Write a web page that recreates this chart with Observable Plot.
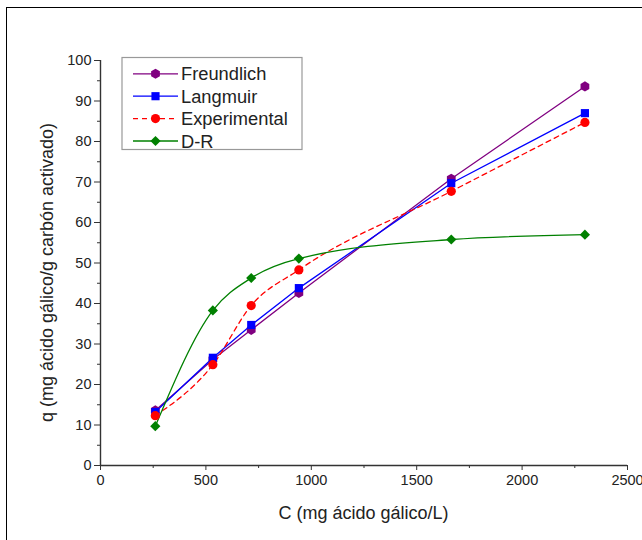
<!DOCTYPE html>
<html><head><meta charset="utf-8">
<script src="https://cdn.jsdelivr.net/npm/d3@7"></script>
<script src="https://cdn.jsdelivr.net/npm/@observablehq/plot@0.6"></script>
<style>
html,body{margin:0;padding:0;background:#fff;overflow:hidden;width:642px;height:540px;}
#chart{position:absolute;left:0;top:0;}
#frame{position:absolute;left:6px;top:7px;width:800px;height:800px;border:1.5px solid #000;pointer-events:none;}
</style></head><body>
<div id="chart"></div><div id="frame"></div>
<script>
// Data
const concentration = [260, 533, 715, 941, 1664, 2298];
const freundlich   = [13.6, 26.2, 33.5, 42.6, 70.8, 93.6];
const langmuir     = [13.2, 26.6, 34.7, 43.8, 69.7, 87.0];
const experimental = [12.3, 24.9, 39.5, 48.3, 67.7, 84.7];
const dubininR     = [9.7, 38.3, 46.3, 51.1, 55.8, 57.0];
const seriesNames  = ["Freundlich", "Langmuir", "Experimental", "D-R"];
const xTicks = [0, 500, 1000, 1500, 2000, 2500];
const xMinor = [250, 750, 1250, 1750, 2250];
const yTicks = [0, 10, 20, 30, 40, 50, 60, 70, 80, 90, 100];
const yMinor = [5, 15, 25, 35, 45, 55, 65, 75, 85, 95];
const xTitle = "C (mg ácido gálico/L)";
const yTitle = "q (mg ácido gálico/g carbón activado)";

const hexagon = {
  draw(ctx, size) {
    const R = Math.sqrt(size / (3 * Math.sqrt(3) / 2));
    for (let i = 0; i < 6; i++) {
      const a = Math.PI / 3 * i - Math.PI / 2;
      const px = R * Math.cos(a), py = R * Math.sin(a);
      if (i === 0) ctx.moveTo(px, py); else ctx.lineTo(px, py);
    }
    ctx.closePath();
  }
};

const styles = [
  {name: seriesNames[0], values: freundlich,   color: "#800080", symbol: hexagon,  curve: "linear",     dash: null},
  {name: seriesNames[1], values: langmuir,     color: "#0000ff", symbol: "square", curve: "linear",     dash: null},
  {name: seriesNames[2], values: experimental, color: "#ff0000", symbol: "circle", curve: "monotone-x", dash: "5,4"},
  {name: seriesNames[3], values: dubininR,     color: "#008000", symbol: "diamond2", curve: "monotone-x", dash: null}
];

const rowsOf = s => concentration.map((c, i) => ({C: c, q: s.values[i], serie: s.name}));
const fmt = d => String(d);

const marks = [
  Plot.axisY({ticks: yMinor, tickSize: 3, text: null, label: null, stroke: "#333"}),
  Plot.axisY({ticks: yTicks, tickSize: 6, tickPadding: 3, tickFormat: fmt, label: null, stroke: "#333", fill: "#222"}),
  Plot.axisX({ticks: xMinor, tickSize: 3, text: null, label: null, stroke: "#333"}),
  Plot.axisX({ticks: xTicks, tickSize: 5, tickPadding: 4, tickFormat: fmt, label: null, stroke: "#333", fill: "#222"}),
  Plot.ruleX([0], {stroke: "#333", strokeWidth: 1.4}),
  Plot.ruleY([0], {stroke: "#333", strokeWidth: 1.4})
];
for (const s of styles) {
  marks.push(Plot.line(rowsOf(s), {x: "C", y: "q", stroke: s.color, strokeWidth: 1.3, curve: s.curve, strokeDasharray: s.dash}));
}
for (const s of styles) {
  marks.push(Plot.dot(rowsOf(s), {x: "C", y: "q", fill: s.color, stroke: "none", symbol: s.symbol, r: 4.6}));
}

const chart = Plot.plot({
  width: 642, height: 540,
  marginLeft: 100, marginRight: 15, marginTop: 60, marginBottom: 75,
  style: {fontFamily: "'Liberation Sans', Arial, sans-serif", fontSize: "14.5px", background: "white", color: "#222"},
  x: {domain: [0, 2500]},
  y: {domain: [0, 100]},
  marks
});

const svg = d3.select(chart);
const xr = chart.scale("x").range, yr = chart.scale("y").range;
svg.append("text").attr("x", (xr[0] + xr[1]) / 2).attr("y", 513)
  .attr("text-anchor", "middle").attr("dominant-baseline", "central")
  .style("font-size", "18px").attr("fill", "#222").text(xTitle);
svg.append("text").attr("transform", `translate(47,${(yr[0] + yr[1]) / 2 + 10}) rotate(-90)`)
  .attr("text-anchor", "middle").attr("dominant-baseline", "central")
  .style("font-size", "18px").attr("fill", "#222").text(yTitle);

// Legend
const lg = svg.append("g");
lg.append("rect").attr("x", 122).attr("y", 57.5).attr("width", 180).attr("height", 92)
  .attr("fill", "white").attr("stroke", "#999").attr("stroke-width", 1.2);
const symType = s => s === "square" ? d3.symbolSquare : s === "circle" ? d3.symbolCircle : s === "diamond2" ? d3.symbolDiamond2 : s;
styles.forEach((s, i) => {
  const y = 73.8 + i * 22.4;
  lg.append("line").attr("x1", 133).attr("x2", 178).attr("y1", y).attr("y2", y)
    .attr("stroke", s.color).attr("stroke-width", 1.3).attr("stroke-dasharray", s.dash);
  lg.append("path").attr("transform", `translate(155.5,${y})`)
    .attr("d", d3.symbol().type(symType(s.symbol)).size(Math.PI * 4.6 * 4.6)()).attr("fill", s.color);
  lg.append("text").attr("x", 181).attr("y", y).attr("dominant-baseline", "central")
    .attr("text-anchor", "start")
    .style("font-size", "18.3px").attr("fill", "#222").text(s.name);
});

document.getElementById("chart").appendChild(chart);
</script>
</body></html>
